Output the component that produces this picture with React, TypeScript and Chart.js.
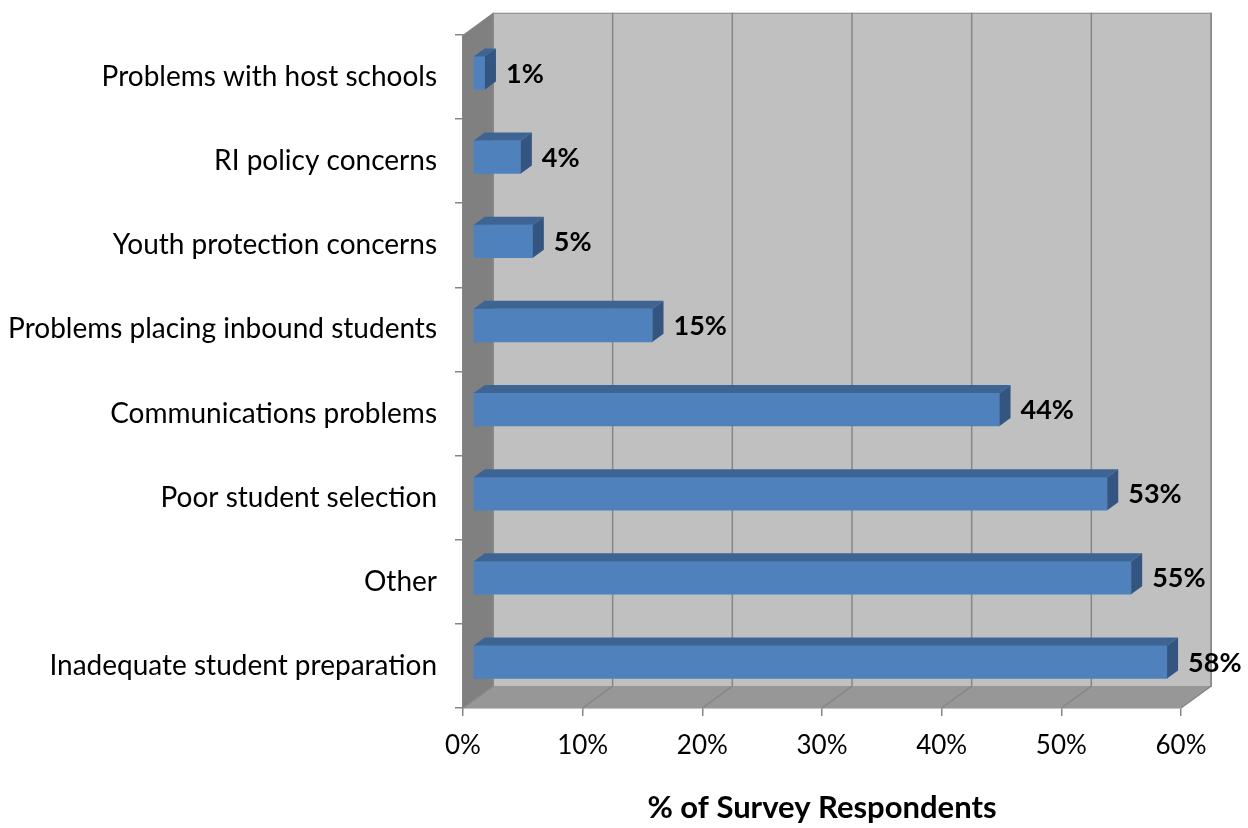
import React, { useEffect, useRef } from "react";
import { Chart, registerables } from "chart.js";

Chart.register(...registerables);

const categories = [
  "Problems with host schools",
  "RI policy concerns",
  "Youth protection concerns",
  "Problems placing inbound students",
  "Communications problems",
  "Poor student selection",
  "Other",
  "Inadequate student preparation",
];
const values = [1, 4, 5, 15, 44, 53, 55, 58];
const xTicks = [0, 10, 20, 30, 40, 50, 60];
const axisTitle = "% of Survey Respondents";

const FONT = "Lato, 'Open Sans', sans-serif";
const DEPTH_X = 30;
const DEPTH_Y = -22;
const BAR_DX = 10;
const BAR_DY = -4;
const BAR_DEPTH_X = 11;
const BAR_DEPTH_Y = -8;

const wallsPlugin = {
  id: "walls3d",
  beforeDatasetsDraw(chart: any) {
    const { ctx, chartArea: a, scales } = chart;
    const xs = scales.x;
    ctx.save();
    ctx.fillStyle = "#c0c0c0";
    ctx.fillRect(a.left + DEPTH_X, a.top + DEPTH_Y, a.right - a.left, a.bottom - a.top);
    ctx.strokeStyle = "#8c8c8c";
    ctx.lineWidth = 1;
    ctx.strokeRect(a.left + DEPTH_X + 0.5, a.top + DEPTH_Y + 0.5, a.right - a.left, a.bottom - a.top);
    ctx.fillStyle = "#808080";
    ctx.beginPath();
    ctx.moveTo(a.left, a.top);
    ctx.lineTo(a.left + DEPTH_X, a.top + DEPTH_Y);
    ctx.lineTo(a.left + DEPTH_X, a.bottom + DEPTH_Y);
    ctx.lineTo(a.left, a.bottom);
    ctx.closePath();
    ctx.fill();
    ctx.fillStyle = "#979797";
    ctx.beginPath();
    ctx.moveTo(a.left, a.bottom);
    ctx.lineTo(a.right, a.bottom);
    ctx.lineTo(a.right + DEPTH_X, a.bottom + DEPTH_Y);
    ctx.lineTo(a.left + DEPTH_X, a.bottom + DEPTH_Y);
    ctx.closePath();
    ctx.fill();
    ctx.strokeStyle = "#868686";
    ctx.lineWidth = 1.5;
    xTicks.forEach((t) => {
      const x = xs.getPixelForValue(t);
      ctx.beginPath();
      ctx.moveTo(x, a.bottom);
      ctx.lineTo(x + DEPTH_X, a.bottom + DEPTH_Y);
      ctx.lineTo(x + DEPTH_X, a.top + DEPTH_Y);
      ctx.stroke();
    });
    ctx.restore();
    ctx.save();
    ctx.translate(BAR_DX, BAR_DY);
  },
  afterDatasetsDraw(chart: any) {
    const { ctx } = chart;
    ctx.restore();
    const meta = chart.getDatasetMeta(0);
    ctx.save();
    meta.data.forEach((bar: any, i: number) => {
      const x0 = bar.base + BAR_DX;
      const x1 = bar.x + BAR_DX;
      const top = bar.y - bar.height / 2 + BAR_DY;
      const bottom = bar.y + bar.height / 2 + BAR_DY;
      ctx.fillStyle = "#3d6493";
      ctx.beginPath();
      ctx.moveTo(x0, top);
      ctx.lineTo(x1, top);
      ctx.lineTo(x1 + BAR_DEPTH_X, top + BAR_DEPTH_Y);
      ctx.lineTo(x0 + BAR_DEPTH_X, top + BAR_DEPTH_Y);
      ctx.closePath();
      ctx.fill();
      ctx.fillStyle = "#33557f";
      ctx.beginPath();
      ctx.moveTo(x1, top);
      ctx.lineTo(x1 + BAR_DEPTH_X, top + BAR_DEPTH_Y);
      ctx.lineTo(x1 + BAR_DEPTH_X, bottom + BAR_DEPTH_Y);
      ctx.lineTo(x1, bottom);
      ctx.closePath();
      ctx.fill();
      ctx.fillStyle = "#000";
      ctx.font = `bold 27px ${FONT}`;
      ctx.textAlign = "left";
      ctx.textBaseline = "middle";
      ctx.fillText(values[i] + "%", x1 + BAR_DEPTH_X + 10, (top + bottom) / 2 + 1);
    });
    ctx.restore();
  },
};

export default function App() {
  const ref = useRef<HTMLCanvasElement>(null);
  useEffect(() => {
    const chart = new Chart(ref.current!, {
      type: "bar",
      data: {
        labels: categories,
        datasets: [
          {
            data: values,
            backgroundColor: "#4f81bd",
            borderWidth: 0,
            barThickness: 33,
          },
        ],
      },
      options: {
        indexAxis: "y",
        animation: false,
        responsive: false,
        layout: { padding: { top: 33, right: 67, left: 0, bottom: 0 } },
        plugins: { legend: { display: false }, tooltip: { enabled: false } },
        scales: {
          x: {
            min: 0,
            max: 60,
            afterFit: (s: any) => { s.height = 120; },
            afterBuildTicks: (s: any) => { s.ticks = xTicks.map((v) => ({ value: v })); },
            ticks: {
              callback: (v: any) => v + "%",
              color: "#000",
              font: { family: FONT, size: 26 },
              padding: 14,
            },
            grid: { drawOnChartArea: false, tickLength: 8, color: "#868686", lineWidth: 1.5 },
            border: { display: true, color: "#868686", width: 1.5 },
            title: {
              display: true,
              text: axisTitle,
              color: "#000",
              font: { family: FONT, size: 31, weight: "bold" },
              padding: { bottom: 1 },
            },
          },
          y: {
            afterFit: (s: any) => { s.width = 463; },
            ticks: {
              color: "#000",
              font: { family: FONT, size: 28 },
              padding: 18,
            },
            grid: { drawOnChartArea: false, offset: true, tickLength: 8, color: "#868686", lineWidth: 1.5 },
            border: { display: true, color: "#868686", width: 1.5 },
          },
        },
      },
      plugins: [wallsPlugin],
    });
    return () => chart.destroy();
  }, []);
  return (
    <div style={{ position: "fixed", left: 0, top: 0, width: 1248, height: 828, background: "#fff" }}>
      <canvas ref={ref} width={1248} height={828} />
    </div>
  );
}
